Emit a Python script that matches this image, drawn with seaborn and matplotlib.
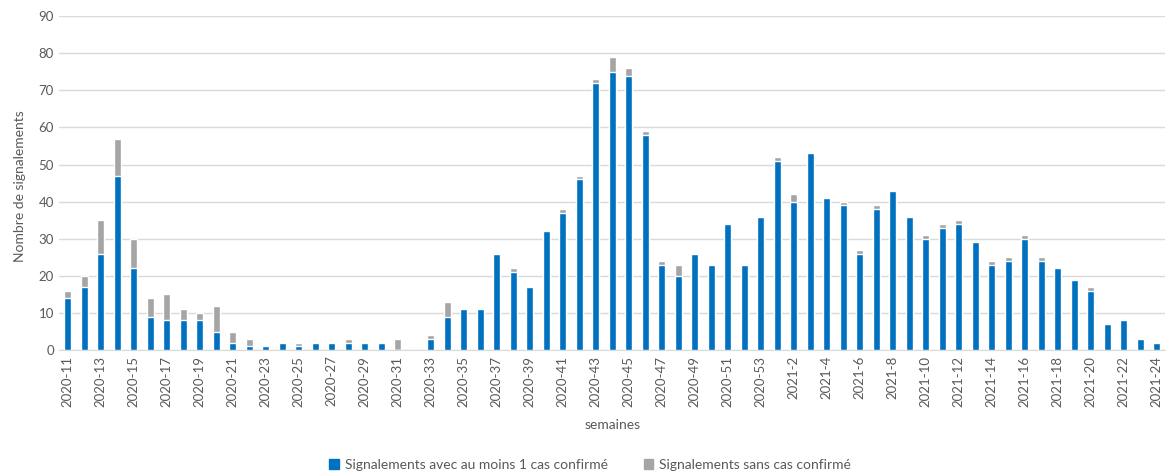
import matplotlib.pyplot as plt
import seaborn as sns
import pandas as pd
from matplotlib.patches import Patch

# Semaines : 2020-11 .. 2020-53 puis 2021-1 .. 2021-24
weeks = [f"2020-{w}" for w in range(11, 54)] + [f"2021-{w}" for w in range(1, 25)]

# Signalements avec au moins 1 cas confirmé
confirmed = [14, 17, 26, 47, 22, 9, 8, 8, 8, 5, 2, 1, 1, 2, 1, 2, 2, 2, 2, 2,
             0, 0, 3, 9, 11, 11, 26, 21, 17, 32, 37, 46, 72, 75, 74, 58, 23, 20,
             26, 23, 34, 23, 36,
             51, 40, 53, 41, 39, 26, 38, 43, 36, 30, 33, 34, 29, 23, 24, 30, 24,
             22, 19, 16, 7, 8, 3, 2]
# Signalements sans cas confirmé
unconfirmed = [2, 3, 9, 10, 8, 5, 7, 3, 2, 7, 3, 2, 0, 0, 1, 0, 0, 1, 0, 0,
               3, 0, 1, 4, 0, 0, 0, 1, 0, 0, 1, 1, 1, 4, 2, 1, 1, 3,
               0, 0, 0, 0, 0,
               1, 2, 0, 0, 1, 1, 1, 0, 0, 1, 1, 1, 0, 1, 1, 1, 1,
               0, 0, 1, 0, 0, 0, 0]

df = pd.DataFrame({"semaine": weeks, "avec": confirmed, "sans": unconfirmed})
df["total"] = df["avec"] + df["sans"]

blue = "#0070C0"
grey = "#A5A5A5"
txt = "#595959"

sns.set_style("white")
plt.rcParams["font.family"] = ["Lato", "DejaVu Sans"]

fig = plt.figure(figsize=(11.66, 4.75), dpi=100)
ax = fig.add_axes([0.051, 0.263, 0.948, 0.703])

# barres empilées : total en gris, puis la part confirmée en bleu par-dessus
sns.barplot(data=df, x="semaine", y="total", color=grey, width=0.42,
            saturation=1, ax=ax, zorder=2)
sns.barplot(data=df, x="semaine", y="avec", color=blue, width=0.42,
            saturation=1, ax=ax, zorder=3)

ax.set_ylim(0, 90)
ax.set_yticks(range(0, 91, 10))
ax.set_xlim(-0.5, len(weeks) - 0.5)
ax.set_xticks(range(0, len(weeks), 2))
ax.set_xticklabels(weeks[::2], rotation=90)
ax.tick_params(length=0, labelsize=9.5, colors=txt, pad=4)
ax.yaxis.grid(True, color="#D9D9D9", linewidth=1, zorder=0)
ax.set_axisbelow(True)

for s in ["top", "right", "left"]:
    ax.spines[s].set_visible(False)
ax.spines["bottom"].set_color("#D9D9D9")

ax.set_xlabel("semaines", fontsize=10, color=txt, labelpad=9)
ax.set_ylabel("Nombre de signalements", fontsize=10, color=txt, labelpad=8)
ax.yaxis.set_label_coords(-0.03, 0.49)

handles = [Patch(color=blue, label="Signalements avec au moins 1 cas confirmé"),
           Patch(color=grey, label="Signalements sans cas confirmé")]
fig.legend(handles=handles, loc="lower center", bbox_to_anchor=(0.506, -0.018),
           ncol=2, frameon=False, fontsize=10, handlelength=0.7,
           handleheight=0.7, columnspacing=2.6, handletextpad=0.4,
           labelcolor=txt)

fig.savefig("out.png", dpi=100)
